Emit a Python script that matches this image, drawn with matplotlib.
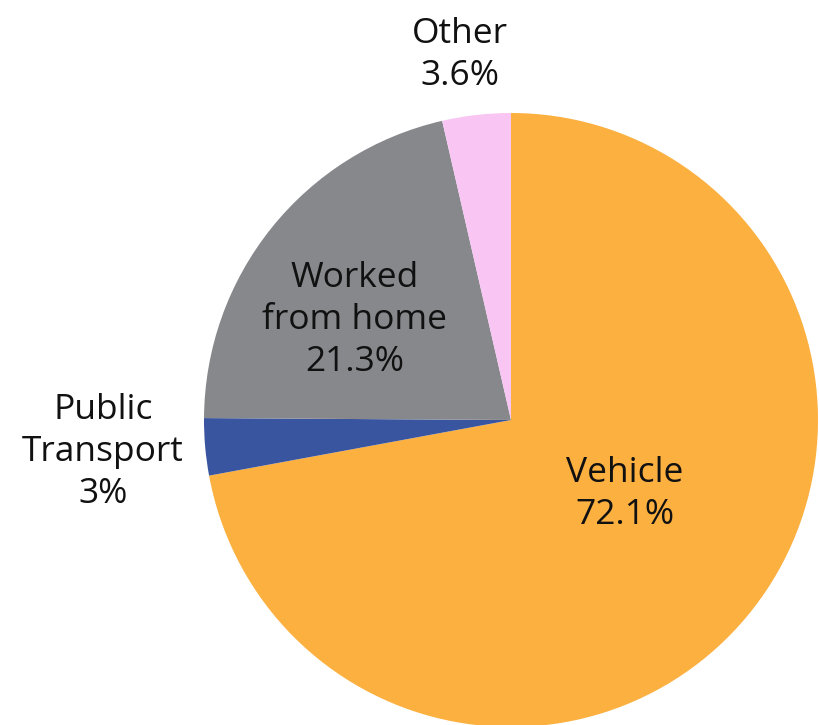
import matplotlib
matplotlib.use("Agg")
import matplotlib.pyplot as plt

categories = ["Vehicle", "Public\nTransport", "Worked\nfrom home", "Other"]
values = [72.1, 3.0, 21.3, 3.6]
value_labels = ["72.1%", "3%", "21.3%", "3.6%"]
colors = ["#FBB040", "#3A55A0", "#87888C", "#F9C6F4"]
label_pos = [(0.371, -0.24), (-1.329, -0.105), (-0.51, 0.325), (-0.166, 1.19)]

plt.rcParams['font.family'] = ['Open Sans', 'DejaVu Sans']
fig = plt.figure(figsize=(8.19, 7.25), dpi=100)
ax = fig.add_axes([204/819, -2/725, 614/819, 614/725])
ax.pie(values, colors=colors, startangle=90, counterclock=False, radius=1.0,
       wedgeprops=dict(linewidth=0))
for cat, vl, (x, y) in zip(categories, value_labels, label_pos):
    ax.text(x, y, f"{cat}\n{vl}", ha="center", va="center", fontsize=25.5,
            linespacing=1.3, color="#111111")
ax.set_xlim(-1, 1)
ax.set_ylim(-1, 1)
ax.set_aspect("equal")
ax.axis("off")
fig.savefig("out.png", dpi=100)
